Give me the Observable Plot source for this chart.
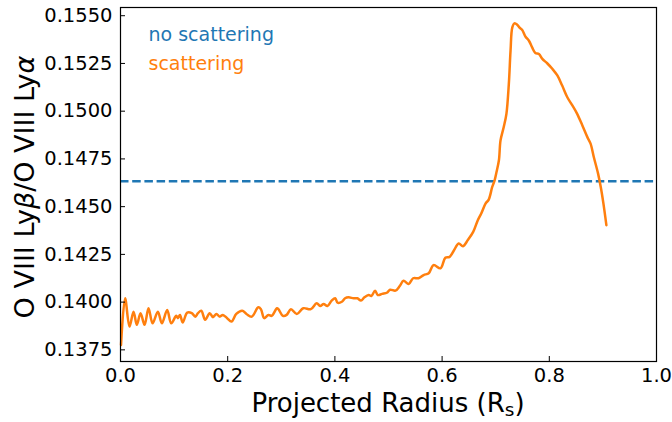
<!DOCTYPE html>
<html><head><meta charset="utf-8">
<script src="https://cdn.jsdelivr.net/npm/d3@7"></script>
<script src="https://cdn.jsdelivr.net/npm/@observablehq/plot@0.6"></script>
<style>body{margin:0;background:#fff}</style>
</head><body><div id="chart"></div>
<script>
// Projected radius (R_s) and O VIII Lyβ/Lyα ratio with scattering
const radius = [0.001,0.0086,0.0168,0.0243,0.0305,0.0374,0.0449,0.0523,0.0598,0.0697,0.0772,0.0871,0.0946,0.104,0.107,0.111,0.116,0.1245,0.133,0.1395,0.1445,0.1507,0.158,0.1664,0.1725,0.179,0.185,0.191,0.199,0.207,0.216,0.227,0.235,0.245,0.257,0.262,0.268,0.276,0.282,0.292,0.2946,0.303,0.310,0.318,0.329,0.341,0.355,0.366,0.3725,0.379,0.386,0.394,0.4006,0.405,0.413,0.419,0.4255,0.435,0.442,0.4486,0.455,0.463,0.468,0.475,0.480,0.488,0.497,0.503,0.513,0.521,0.528,0.5377,0.546,0.556,0.5656,0.575,0.584,0.597,0.606,0.614,0.6217,0.631,0.639,0.648,0.658,0.6666,0.673,0.681,0.687,0.6935,0.698,0.7015,0.706,0.709,0.715,0.720,0.7245,0.7277,0.731,0.735,0.740,0.745,0.7495,0.7557,0.762,0.768,0.774,0.7806,0.787,0.796,0.8056,0.815,0.824,0.8336,0.843,0.852,0.8617,0.871,0.877,0.883,0.891,0.896,0.901,0.9065];
const ratioScattering = [0.13776,0.14020,0.13872,0.13950,0.13881,0.13942,0.13881,0.13968,0.13889,0.13950,0.13889,0.13959,0.13889,0.13928,0.13916,0.13933,0.13893,0.13945,0.13942,0.13924,0.13942,0.13955,0.13907,0.13942,0.13921,0.13938,0.13924,0.13933,0.13916,0.13898,0.13938,0.13955,0.13938,0.13924,0.13973,0.13963,0.13916,0.13933,0.13928,0.13968,0.13963,0.13928,0.13933,0.13963,0.13938,0.13968,0.13963,0.13994,0.13980,0.13990,0.13980,0.14008,0.14020,0.13997,0.14002,0.14020,0.14025,0.14020,0.14020,0.14008,0.14025,0.14037,0.14032,0.14060,0.14037,0.14043,0.14049,0.14065,0.14060,0.14084,0.14112,0.14095,0.14125,0.14125,0.14142,0.14151,0.14194,0.14177,0.14232,0.14237,0.14269,0.14307,0.14293,0.14325,0.14368,0.14429,0.14464,0.14516,0.14537,0.14603,0.14638,0.14681,0.14743,0.14847,0.14917,0.14986,0.15143,0.15317,0.15439,0.15460,0.15453,0.15436,0.15425,0.15390,0.15369,0.15334,0.15305,0.15300,0.15274,0.15251,0.15222,0.15187,0.15134,0.15073,0.15030,0.14986,0.14925,0.14864,0.14830,0.14760,0.14673,0.14603,0.14516,0.14403];
const ratioNoScattering = 0.14633;
const seriesLabels = ["no scattering", "scattering"];
const seriesColors = ["#1f77b4", "#ff7f0e"];
const xTicks = [0, 0.2, 0.4, 0.6, 0.8, 1.0];
const yTicks = [0.1375, 0.1400, 0.1425, 0.1450, 0.1475, 0.1500, 0.1525, 0.1550];
const xDomain = [0, 1];
const yDomain = [0.13689, 0.15543];

const data = radius.map((r, i) => ({r, v: ratioScattering[i]}));

const W = 672, H = 422, mL = 120, mR = 16, mT = 7, mB = 61;
const pw = W - mL - mR, ph = H - mT - mB;
const tickFont = 19.5;

const svg = Plot.plot({
  width: W, height: H,
  marginLeft: mL, marginRight: mR, marginTop: mT, marginBottom: mB,
  style: {fontFamily: "DejaVu Sans", fontSize: tickFont + "px", color: "black", background: "white"},
  x: {domain: xDomain},
  y: {domain: yDomain},
  marks: [
    Plot.ruleY([ratioNoScattering], {stroke: seriesColors[0], strokeWidth: 2.3, strokeDasharray: "8.5,3.7"}),
    Plot.line(data, {x: "r", y: "v", stroke: seriesColors[1], strokeWidth: 2.5, curve: "catmull-rom"}),
    Plot.axisX(xTicks, {tickSize: 0, tickPadding: 7, tickFormat: d => d.toFixed(1), label: null, fontSize: tickFont}),
    Plot.axisY(yTicks, {tickSize: 0, tickPadding: 8, tickFormat: d => d.toFixed(4), label: null, fontSize: tickFont}),
    Plot.tickX(xTicks, {x: d => d, insetTop: ph - 5, stroke: "black", strokeWidth: 1}),
    Plot.tickY(yTicks, {y: d => d, insetRight: pw - 5, stroke: "black", strokeWidth: 1}),
    Plot.frame({stroke: "black", strokeWidth: 1.2}),
    Plot.text([seriesLabels[0]], {frameAnchor: "top-left", dx: 28, dy: 20, textAnchor: "start", fill: seriesColors[0], fontSize: 19}),
    Plot.text([seriesLabels[1]], {frameAnchor: "top-left", dx: 28, dy: 49, textAnchor: "start", fill: seriesColors[1], fontSize: 19})
  ]
});

const s = d3.select(svg);
const xl = s.append("text")
  .attr("x", mL + pw / 2).attr("y", 412)
  .attr("text-anchor", "middle").attr("font-size", 26).attr("fill", "black");
xl.append("tspan").text("Projected Radius (R");
xl.append("tspan").attr("font-size", 18.5).attr("dy", 4).text("s");
xl.append("tspan").attr("dy", -4).text(")");

const yl = s.append("text")
  .attr("transform", `translate(33.5,${mT + ph / 2 + 3}) rotate(-90)`)
  .attr("text-anchor", "middle").attr("font-size", 27).attr("fill", "black");
yl.append("tspan").text("O VIII Ly");
yl.append("tspan").attr("font-style", "italic").text("β");
yl.append("tspan").text("/O VIII Ly");
yl.append("tspan").attr("font-style", "italic").text("α");

document.getElementById("chart").appendChild(svg);
</script>
</body></html>
